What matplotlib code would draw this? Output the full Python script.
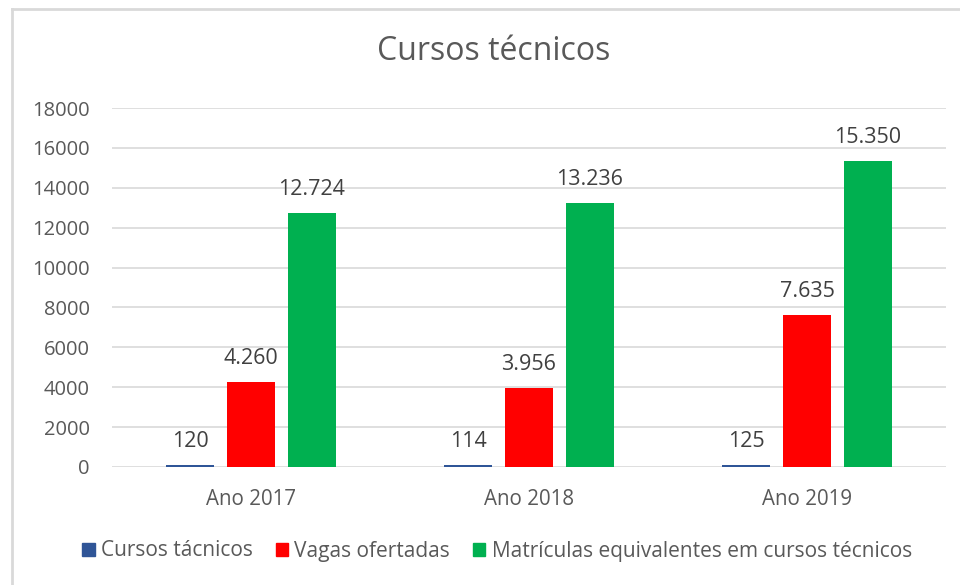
import matplotlib
matplotlib.use("Agg")
import matplotlib.pyplot as plt
from matplotlib.lines import Line2D
from matplotlib.patches import Patch
import numpy as np

categories = ["Ano 2017", "Ano 2018", "Ano 2019"]
series_names = ["Cursos tácnicos", "Vagas ofertadas",
                "Matrículas equivalentes em cursos técnicos"]
cursos = [120, 114, 125]
vagas = [4260, 3956, 7635]
matriculas = [12724, 13236, 15350]
colors = ["#2F5597", "#FF0000", "#00B050"]
y_ticks = [0, 2000, 4000, 6000, 8000, 10000, 12000, 14000, 16000, 18000]

plt.rcParams["font.family"] = ["Open Sans", "DejaVu Sans"]
text_color = "#595959"

W, H = 960, 585
fig = plt.figure(figsize=(W / 100, H / 100), dpi=100)
ax = fig.add_axes([112 / W, 1 - 467 / H, (946 - 112) / W, (467 - 108) / H])

x = np.arange(len(categories))
width = 0.173
step = 0.219
data = [cursos, vagas, matriculas]


def fmt(v):
    return f"{v:,}".replace(",", ".")


for i, (vals, col, name) in enumerate(zip(data, colors, series_names)):
    pos = x + (i - 1) * step
    bars = ax.bar(pos, vals, width=width, color=col, zorder=3, label=name)
    for b, v in zip(bars, vals):
        ax.text(b.get_x() + b.get_width() / 2, v + 650, fmt(v),
                ha="center", va="bottom", fontsize=15.5, color="#404040")

ax.set_xlim(-0.5, 2.5)
ax.set_ylim(0, 18000)
ax.set_yticks(y_ticks)
ax.set_yticklabels([str(t) for t in y_ticks], fontsize=14.5, color=text_color)
ax.set_xticks(x)
ax.set_xticklabels(categories, fontsize=14.8, color=text_color)
ax.tick_params(axis="both", length=0)
ax.tick_params(axis="y", pad=16)
ax.tick_params(axis="x", pad=16)
ax.grid(axis="y", color="#D9D9D9", linewidth=1.2, zorder=0)
for s in ax.spines.values():
    s.set_visible(False)

fig.text(494 / W, 1 - 52 / H, "Cursos técnicos", ha="center", va="center",
         fontsize=23, color=text_color)

handles = [Patch(color=c) for c in colors]
fig.legend(handles, series_names, loc="center", ncol=3,
           bbox_to_anchor=(497 / W, 1 - 551 / H), frameon=False,
           fontsize=15, labelcolor=text_color, handlelength=0.6,
           handleheight=0.6, handletextpad=0.3, columnspacing=1.1)

# light chart frame
fig.add_artist(Line2D([12 / W, 1], [1 - 8.5 / H, 1 - 8.5 / H],
                      transform=fig.transFigure, color="#D9D9D9", linewidth=2))
fig.add_artist(Line2D([12 / W, 12 / W], [0, 1 - 8.5 / H],
                      transform=fig.transFigure, color="#D9D9D9", linewidth=2))

fig.savefig("out.png", dpi=100)
